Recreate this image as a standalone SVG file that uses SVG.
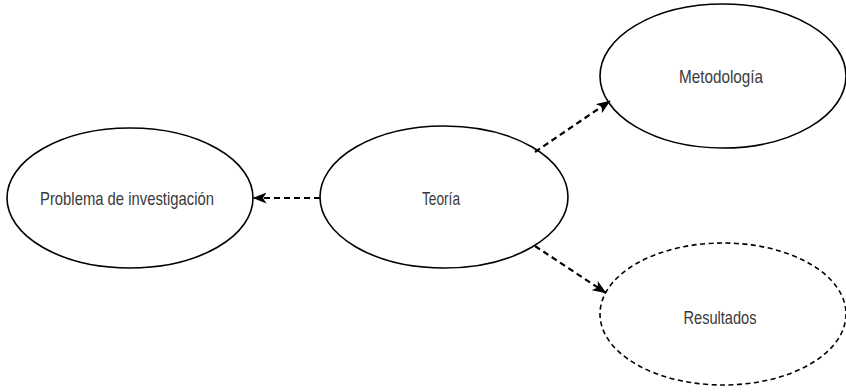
<svg xmlns="http://www.w3.org/2000/svg" width="846" height="392" viewBox="0 0 846 392">
<style>
.n{fill:#fff;stroke:#000;stroke-width:1.6}
.d{stroke-dasharray:5 3.5}
.t{font-family:"Liberation Sans",Arial,sans-serif;font-size:19px;fill:#3a3a3a;text-anchor:middle}
.c{stroke:#000;stroke-width:2.2;stroke-dasharray:6 4;fill:none}
</style>
<defs>
<marker id="ah" markerWidth="14" markerHeight="11" refX="13.5" refY="5.5" orient="auto" markerUnits="userSpaceOnUse">
<path d="M0,0 L14,5.5 L0,11 L3.5,5.5 Z" fill="#000"/>
</marker>
</defs>
<rect width="846" height="392" fill="#fff"/>
<g id="problema">
<ellipse class="n" cx="130" cy="198" rx="123" ry="70"/>
<text class="t" x="127" y="205" textLength="174" lengthAdjust="spacingAndGlyphs">Problema de investigación</text>
</g>
<g id="teoria">
<ellipse class="n" cx="444" cy="197" rx="124" ry="71"/>
<text class="t" x="441" y="205" textLength="38" lengthAdjust="spacingAndGlyphs">Teoría</text>
</g>
<g id="metodologia">
<ellipse class="n" cx="723" cy="76" rx="123" ry="72"/>
<text class="t" x="721" y="83" textLength="84" lengthAdjust="spacingAndGlyphs">Metodología</text>
</g>
<g id="resultados">
<ellipse class="n d" cx="723" cy="314" rx="123" ry="71"/>
<text class="t" x="720" y="324" textLength="73" lengthAdjust="spacingAndGlyphs">Resultados</text>
</g>
<g id="connectors">
<line class="c" x1="320" y1="198" x2="253" y2="198" marker-end="url(#ah)"/>
<line class="c" x1="535" y1="152" x2="610" y2="101" marker-end="url(#ah)"/>
<line class="c" x1="535" y1="246" x2="606" y2="293" marker-end="url(#ah)"/>
</g>
</svg>
